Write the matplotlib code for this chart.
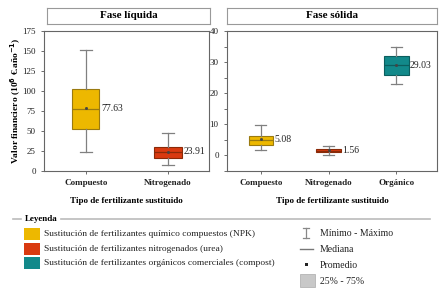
import matplotlib
matplotlib.use("Agg")
import matplotlib.pyplot as plt
from matplotlib.patches import Rectangle
from matplotlib.lines import Line2D

plt.rcParams['font.family'] = ['Liberation Serif', 'DejaVu Serif']

# ---- data ----
liq_cats = ["Compuesto", "Nitrogenado"]
liq_med = [77.63, 23.91]
liq_q1 = [52.6, 16.5]
liq_q3 = [102.5, 30.0]
liq_min = [23.5, 7.0]
liq_max = [151.0, 48.0]
liq_mean = [79.0, 24.0]

sol_cats = ["Compuesto", "Nitrogenado", "Orgánico"]
sol_med = [5.08, 1.56, 29.03]
sol_q1 = [3.4, 1.0, 26.0]
sol_q3 = [6.3, 2.2, 31.9]
sol_min = [1.6, 0.3, 23.1]
sol_max = [9.7, 3.1, 34.8]
sol_mean = [5.2, 1.6, 29.1]

colors = ["#EDB800", "#D93A10", "#12898A"]
edges = ["#9A7A10", "#8A2A08", "#0B5E5E"]
titles = ["Fase líquida", "Fase sólida"]
ylabel = "Valor financiero (10$^{\\mathbf{6}}$ €.año$^{\\mathbf{-1}}$)"
xlabel = "Tipo de fertilizante sustituido"
legend_labels = ["Sustitución de fertilizantes químico compuestos (NPK)",
                 "Sustitución de fertilizantes nitrogenados (urea)",
                 "Sustitución de fertilizantes orgánicos comerciales (compost)"]
stat_labels = ["Mínimo - Máximo", "Mediana", "Promedio", "25% - 75%"]

W, H = 448, 292
fig = plt.figure(figsize=(W / 100, H / 100), dpi=100)


def px(x0, y0, x1, y1):
    return [x0 / W, 1 - y1 / H, (x1 - x0) / W, (y1 - y0) / H]


def draw_panel(ax, cats, med, q1, q3, mn, mx, mean, width):
    stats = []
    for i in range(len(cats)):
        stats.append(dict(med=med[i], q1=q1[i], q3=q3[i], whislo=mn[i],
                          whishi=mx[i], mean=mean[i], fliers=[]))
    pos = list(range(len(cats)))
    bp = ax.bxp(stats, positions=pos, widths=width, patch_artist=True,
                showmeans=True, showfliers=False, capwidths=width * 0.45,
                whiskerprops=dict(color="#808080", lw=0.9),
                capprops=dict(color="#808080", lw=0.9),
                medianprops=dict(lw=0.9),
                meanprops=dict(marker="s", markersize=1.0, markerfacecolor="#444444",
                               markeredgecolor="#444444"))
    for i, b in enumerate(bp["boxes"]):
        b.set_facecolor(colors[i])
        b.set_edgecolor(edges[i])
        b.set_linewidth(0.8)
        bp["medians"][i].set_color(edges[i])
    for i in range(len(cats)):
        ax.text(pos[i] + width / 2 + 0.02, med[i], f"{med[i]:.2f}", fontsize=7,
                va="center", ha="left", color="#222222")
    ax.set_xticks(pos)
    ax.set_xticklabels(cats, fontsize=6.5, fontweight="bold")
    ax.tick_params(axis="both", direction="out", length=2.5, width=0.6,
                   colors="#555555", labelcolor="#222222")
    ax.tick_params(axis="y", labelsize=6.5)
    for s in ax.spines.values():
        s.set_color("#666666")
        s.set_linewidth(0.8)
    ax.set_xlabel(xlabel, fontsize=6.5, fontweight="bold", labelpad=7)


ax1 = fig.add_axes(px(44, 31, 209, 171))
draw_panel(ax1, liq_cats, liq_med, liq_q1, liq_q3, liq_min, liq_max, liq_mean, 0.33)
ax1.set_xlim(-0.51, 1.5)
ax1.set_ylim(0, 175)
ax1.set_yticks(range(0, 176, 25))
ax1.set_ylabel(ylabel, fontsize=6.8, fontweight="bold")
ax1.yaxis.set_label_coords(-0.125, 0.5)

ax2 = fig.add_axes(px(227, 31, 437, 171))
draw_panel(ax2, sol_cats, sol_med, sol_q1, sol_q3, sol_min, sol_max, sol_mean, 0.36)
ax2.set_xlim(-0.5, 2.6)
ax2.set_ylim(-5, 40)
ax2.set_yticks([0, 10, 20, 30, 40])
ax2.set_yticks([-5, 5, 15, 25, 35], minor=True)
ax2.tick_params(axis="y", which="minor", direction="out", length=2.5, width=0.6,
                colors="#555555")

# title boxes
for (x0, x1), t in zip([(47, 210), (227, 437)], titles):
    tax = fig.add_axes(px(x0, 8, x1, 24))
    tax.set_xticks([])
    tax.set_yticks([])
    for s in tax.spines.values():
        s.set_color("#999999")
        s.set_linewidth(0.8)
    tax.text(0.5, 0.5, t, ha="center", va="center", fontsize=8,
             fontweight="bold", transform=tax.transAxes)

# legend overlay in pixel coordinates
lax = fig.add_axes([0, 0, 1, 1])
lax.set_xlim(0, W)
lax.set_ylim(H, 0)
lax.axis("off")
lax.add_line(Line2D([13, 21], [219, 219], color="#BBBBBB", lw=1.2))
lax.add_line(Line2D([61, 430], [219, 219], color="#BBBBBB", lw=1.2))
lax.text(25, 219, "Leyenda", fontsize=6.5, fontweight="bold", va="center", ha="left")
for i, (lab, c) in enumerate(zip(legend_labels, colors)):
    y = 234 + i * 14.7
    lax.add_patch(Rectangle((24, y - 6), 16, 12, facecolor=c, edgecolor="none"))
    lax.text(44, y, lab, fontsize=6.8, va="center", ha="left", color="#222222")

# stat legend
lax.add_line(Line2D([306, 306], [228, 238], color="#888888", lw=0.9))
lax.add_line(Line2D([303, 309], [228, 228], color="#888888", lw=0.9))
lax.add_line(Line2D([303, 309], [238, 238], color="#888888", lw=0.9))
lax.add_line(Line2D([300, 313], [249, 249], color="#777777", lw=1.0))
lax.add_patch(Rectangle((305, 263), 3, 3, facecolor="#222222", edgecolor="none"))
lax.add_patch(Rectangle((300, 274), 15, 13, facecolor="#C8C8C8", edgecolor="#AAAAAA", lw=0.5))
for lab, y in zip(stat_labels, [233, 249, 265, 281]):
    lax.text(320, y, lab, fontsize=7, va="center", ha="left", color="#222222")

fig.savefig("out.png", dpi=100)
